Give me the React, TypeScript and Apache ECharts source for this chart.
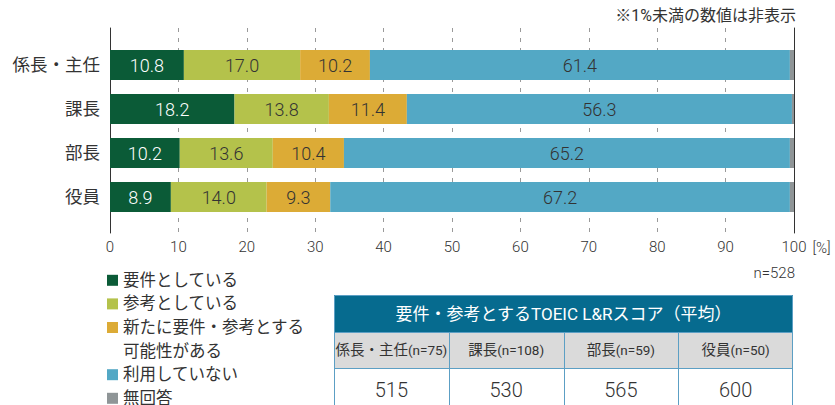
import React, { useEffect, useRef } from 'react';
import * as echarts from 'echarts';

const CATEGORIES = ['係長・主任', '課長', '部長', '役員'];
const SERIES_NAMES = ['要件としている', '参考としている', '新たに要件・参考とする可能性がある', '利用していない', '無回答'];
const LEGEND_LINE_1 = '新たに要件・参考とする';
const LEGEND_LINE_2 = '可能性がある';
const REQUIRED = [10.8, 18.2, 10.2, 8.9];
const REFERENCE = [17.0, 13.8, 13.6, 14.0];
const POSSIBLE = [10.2, 11.4, 10.4, 9.3];
const NOT_USED = [61.4, 56.3, 65.2, 67.2];
const NO_ANSWER = [0.6, 0.3, 0.6, 0.6];
const X_MIN = 0;
const X_MAX = 100;
const X_INTERVAL = 10;
const X_UNIT = '[%]';
const NOTE = '※1%未満の数値は非表示';
const SAMPLE = 'n=528';
const TABLE_TITLE = '要件・参考とするTOEIC L&Rスコア（平均）';
const TABLE_GROUPS = ['係長・主任', '課長', '部長', '役員'];
const TABLE_N = [75, 108, 59, 50];
const TABLE_SCORES = [515, 530, 565, 600];

const COLORS = ['#0b5b37', '#b4c24b', '#dcab36', '#53a8c5', '#8f9597'];
const LABEL_COLORS = ['#ffffff', '#333333', '#333333', '#333333', '#333333'];
const FONT = 'Roboto, "Noto Sans CJK JP", "Noto Sans", sans-serif';
const NUM_WEIGHT = 300;
const TEXT = '#333333';

function buildTable(): any[] {
  const x0 = 334;
  const w = 459;
  const colW = w / 4;
  const yTop = 295;
  const hHead = 37;
  const hRow2 = 36;
  const hRow3 = 46;
  const y2 = yTop + hHead;
  const y3 = y2 + hRow2;
  const yBot = y3 + hRow3;
  const border = '#5c9fc4';
  const els: any[] = [
    { type: 'rect', shape: { x: x0, y: yTop, width: w, height: hHead }, style: { fill: '#066b8f' } },
    { type: 'rect', shape: { x: x0, y: y2, width: w, height: hRow2 }, style: { fill: '#dadada' } },
    { type: 'rect', shape: { x: x0, y: y3, width: w, height: hRow3 }, style: { fill: '#ffffff' } },
    { type: 'rect', shape: { x: x0 + 0.5, y: yTop + 0.5, width: w - 1, height: yBot - yTop }, style: { fill: 'none', stroke: border, lineWidth: 1 } },
    { type: 'line', shape: { x1: x0, y1: y2 + 0.5, x2: x0 + w, y2: y2 + 0.5 }, style: { stroke: border, lineWidth: 1 } },
    { type: 'line', shape: { x1: x0, y1: y3 + 0.5, x2: x0 + w, y2: y3 + 0.5 }, style: { stroke: border, lineWidth: 1 } },
    {
      type: 'text',
      x: x0 + w / 2,
      y: yTop + hHead / 2,
      style: { text: TABLE_TITLE, fill: '#ffffff', fontSize: 17, fontFamily: FONT, align: 'center', verticalAlign: 'middle' },
    },
  ];
  for (let i = 1; i < 4; i++) {
    const x = Math.round(x0 + colW * i) + 0.5;
    els.push({ type: 'line', shape: { x1: x, y1: y2, x2: x, y2: yBot }, style: { stroke: border, lineWidth: 1 } });
  }
  TABLE_GROUPS.forEach((g, i) => {
    const cx = x0 + colW * i + colW / 2;
    els.push({
      type: 'text',
      x: cx,
      y: y2 + hRow2 / 2,
      style: {
        text: `{a|${g}}{b|(n=${TABLE_N[i]})}`,
        align: 'center',
        verticalAlign: 'middle',
        rich: {
          a: { fontSize: 14.5, fill: TEXT, fontFamily: FONT },
          b: { fontSize: 13.5, fill: TEXT, fontFamily: FONT },
        },
      },
    });
    els.push({
      type: 'text',
      x: cx,
      y: y3 + 22,
      style: {
        text: String(TABLE_SCORES[i]),
        fill: TEXT,
        fontSize: 20,
        fontWeight: NUM_WEIGHT,
        fontFamily: FONT,
        align: 'center',
        verticalAlign: 'middle',
      },
    });
  });
  return els;
}

export default function App() {
  const ref = useRef<HTMLDivElement>(null);
  useEffect(() => {
    if (!ref.current) return;
    const chart = echarts.init(ref.current, undefined, { renderer: 'svg' });
    const values = [REQUIRED, REFERENCE, POSSIBLE, NOT_USED, NO_ANSWER];
    const barSeries: any[] = values.map((data, i) => ({
      name: SERIES_NAMES[i],
      type: 'bar',
      stack: 'total',
      xAxisIndex: 1,
      yAxisIndex: 2,
      barWidth: 30,
      data,
      itemStyle: { color: COLORS[i] },
      label: {
        show: i < 4,
        position: 'inside',
        fontSize: 18,
        fontWeight: NUM_WEIGHT,
        fontFamily: FONT,
        color: LABEL_COLORS[i],
        formatter: (p: any) => (p.value >= 1 ? Number(p.value).toFixed(1) : ''),
      },
    }));
    // legend-only helper entry for the wrapped second line of the third legend item
    barSeries.push({
      name: LEGEND_LINE_2,
      type: 'bar',
      stack: 'total',
      xAxisIndex: 1,
      yAxisIndex: 2,
      data: [],
      itemStyle: { color: 'rgba(0,0,0,0)' },
    });

    chart.setOption({
      animation: false,
      textStyle: { fontFamily: FONT },
      grid: [
        { left: 110, width: 684, top: 28, height: 205 },
        { left: 110, width: 684, top: 43, height: 176 },
      ],
      xAxis: [
        {
          gridIndex: 0,
          type: 'value',
          min: X_MIN,
          max: X_MAX,
          interval: X_INTERVAL,
          axisLine: { show: false },
          axisTick: { show: false },
          splitLine: { show: true, lineStyle: { color: '#9a9a9a', type: [4, 6], width: 1 } },
          axisLabel: { fontSize: 15, fontWeight: NUM_WEIGHT, color: TEXT, margin: 6, fontFamily: FONT },
          name: X_UNIT,
          nameLocation: 'end',
          nameGap: 18,
          nameTextStyle: { fontSize: 15, fontWeight: NUM_WEIGHT, color: TEXT, verticalAlign: 'top', padding: [7, 0, 0, 0], fontFamily: FONT },
        },
        { gridIndex: 1, type: 'value', min: X_MIN, max: X_MAX, show: false },
      ],
      yAxis: [
        {
          gridIndex: 0,
          type: 'value',
          min: 0,
          max: 1,
          position: 'left',
          axisLine: { show: true, lineStyle: { color: '#333', width: 1 } },
          axisTick: { show: false },
          axisLabel: { show: false },
          splitLine: { show: false },
        },
        {
          gridIndex: 0,
          type: 'value',
          min: 0,
          max: 1,
          position: 'right',
          axisLine: { show: true, lineStyle: { color: '#333', width: 1 } },
          axisTick: { show: false },
          axisLabel: { show: false },
          splitLine: { show: false },
        },
        {
          gridIndex: 1,
          type: 'category',
          data: CATEGORIES,
          inverse: true,
          axisLine: { show: false },
          axisTick: { show: false },
          splitLine: { show: false },
          axisLabel: { fontSize: 17.5, color: TEXT, margin: 10, fontFamily: FONT },
        },
      ],
      legend: {
        orient: 'vertical',
        left: 107,
        top: 268.5,
        height: 300,
        padding: 0,
        itemGap: 0,
        itemWidth: 11,
        itemHeight: 11,
        icon: 'rect',
        selectedMode: false,
        data: [SERIES_NAMES[0], SERIES_NAMES[1], SERIES_NAMES[2], LEGEND_LINE_2, SERIES_NAMES[3], SERIES_NAMES[4]],
        formatter: (name: string) => (name === SERIES_NAMES[2] ? LEGEND_LINE_1 : name),
        textStyle: { fontSize: 16.5, lineHeight: 23.6, color: TEXT, fontFamily: FONT },
      },
      graphic: [
        {
          type: 'text',
          right: 39,
          top: 7,
          style: { text: NOTE, fill: TEXT, fontSize: 16, fontFamily: FONT },
        },
        {
          type: 'text',
          right: 40,
          top: 265,
          style: { text: SAMPLE, fill: TEXT, fontSize: 15, fontWeight: NUM_WEIGHT, fontFamily: FONT },
        },
        ...buildTable(),
      ],
      series: barSeries,
    });
    return () => chart.dispose();
  }, []);
  return <div ref={ref} style={{ position: 'absolute', left: 0, top: 0, width: 835, height: 405 }} />;
}
